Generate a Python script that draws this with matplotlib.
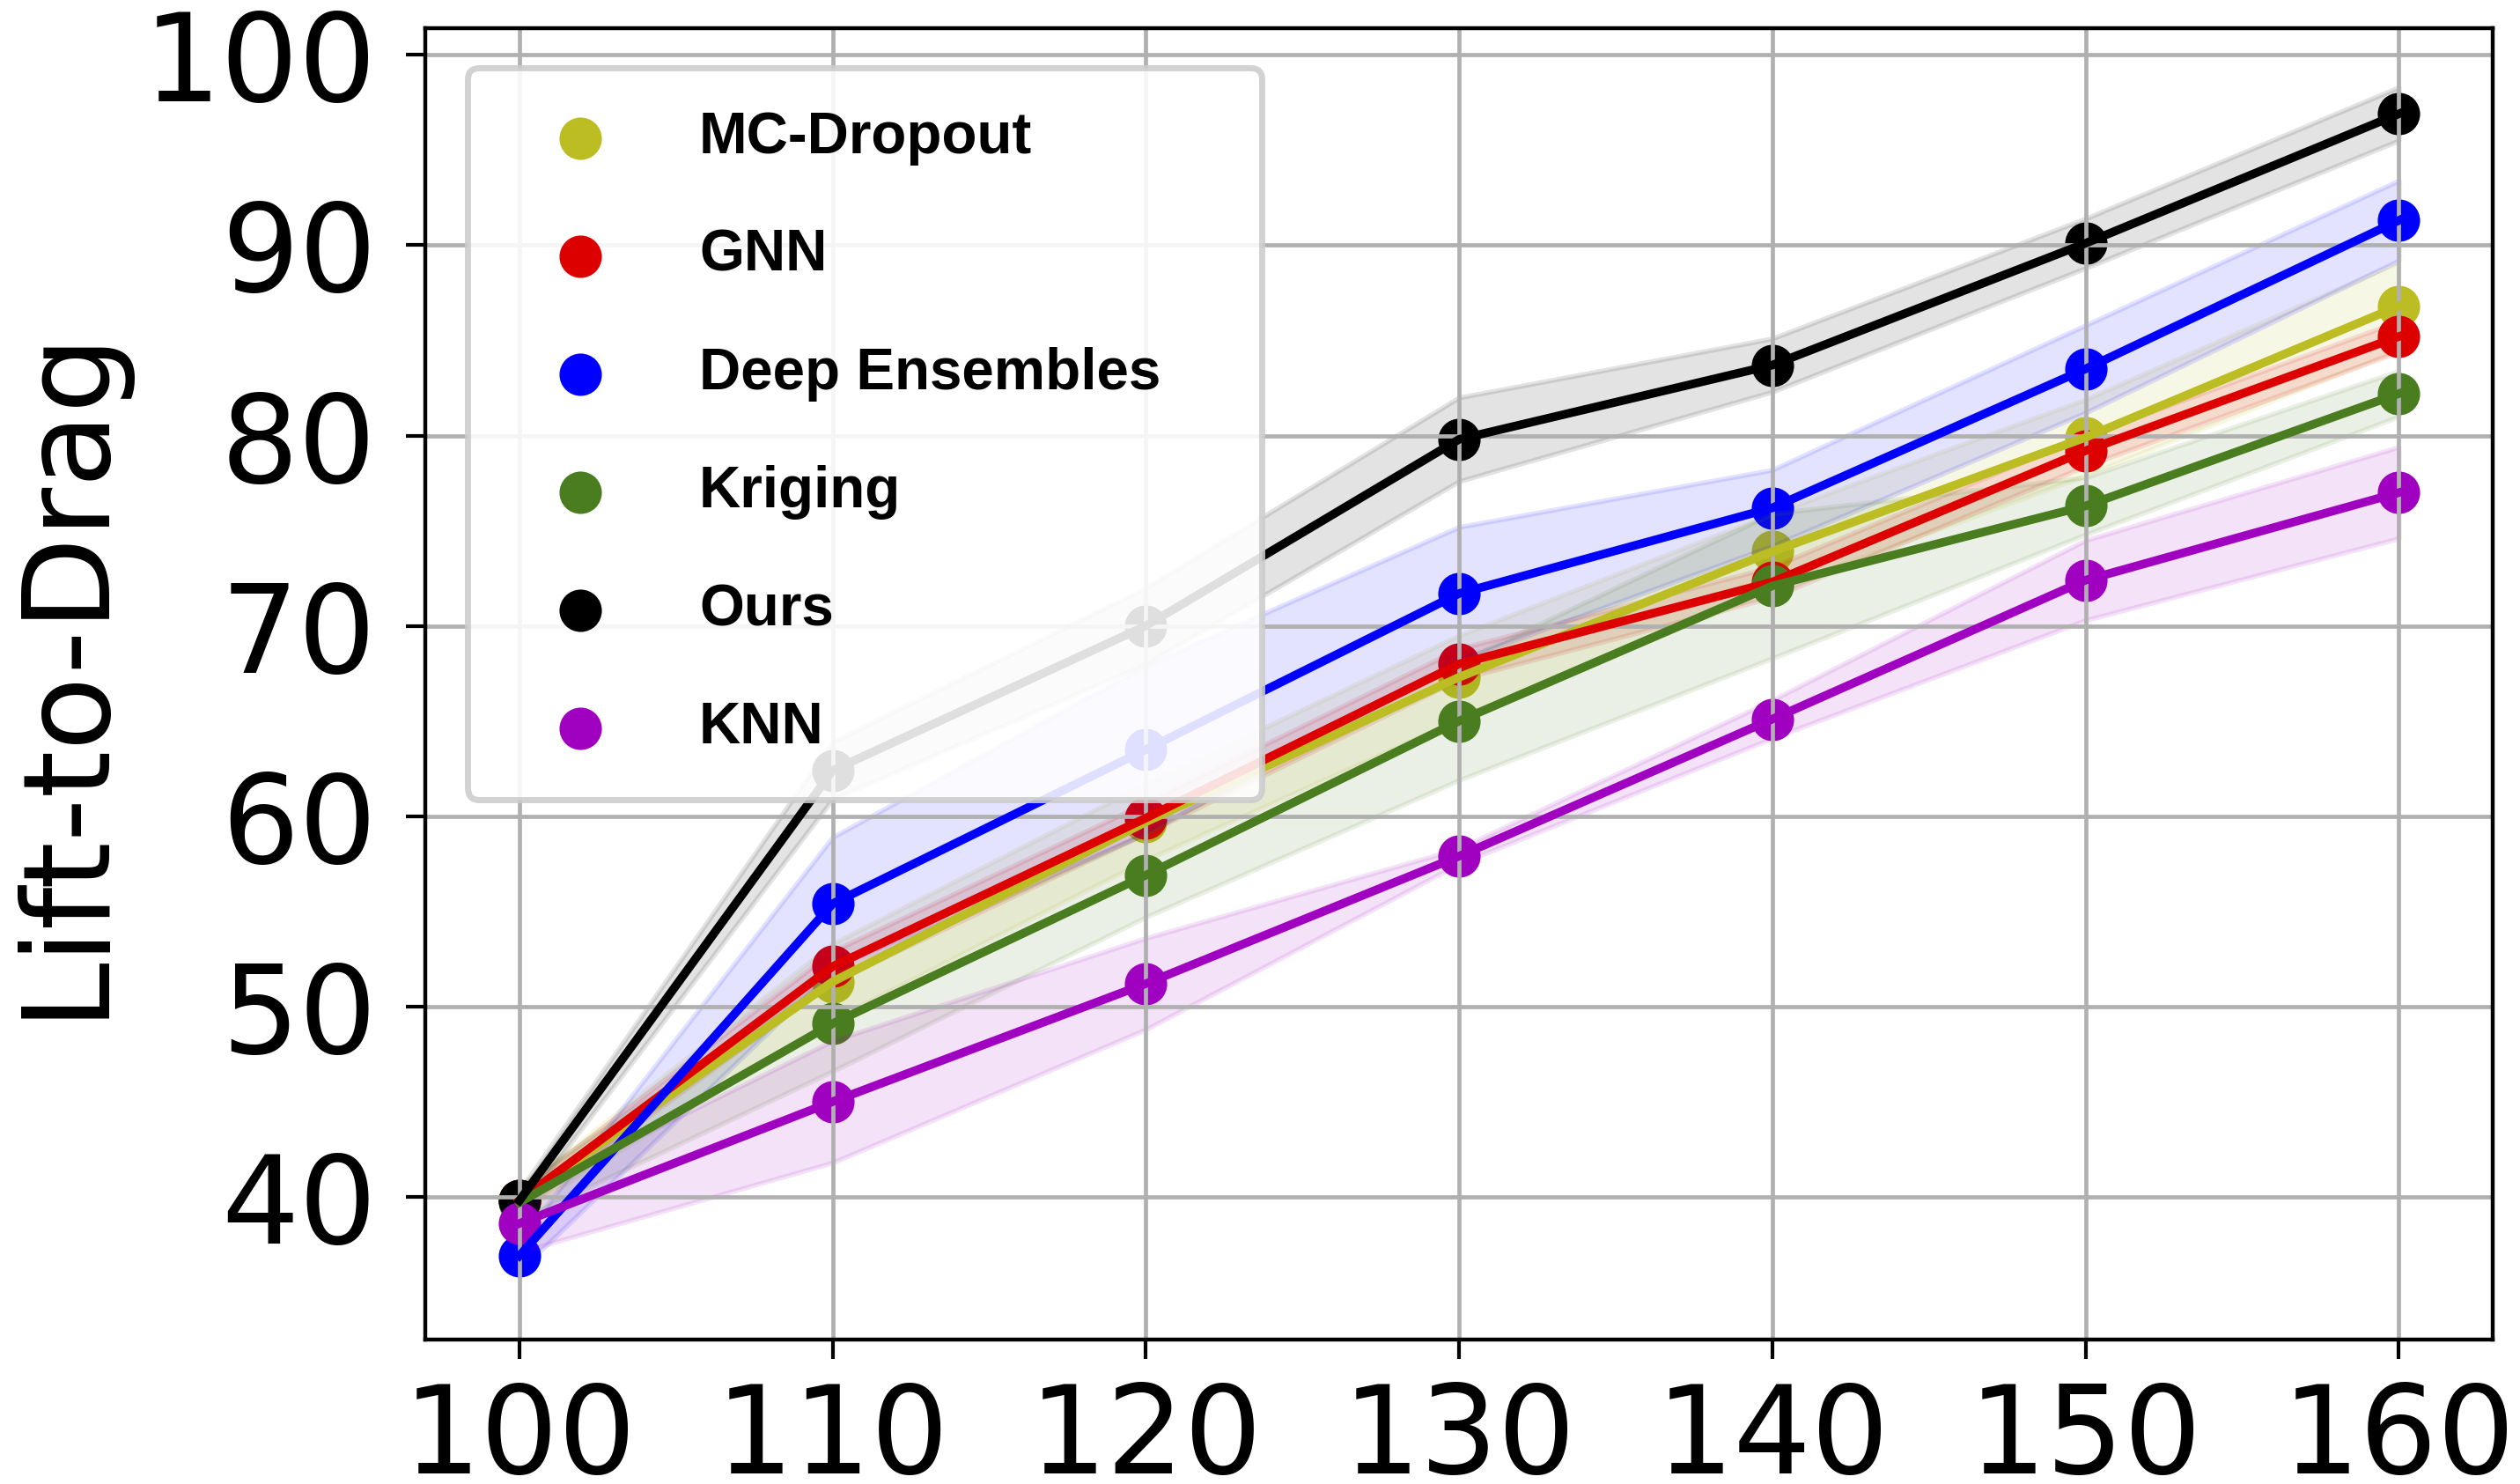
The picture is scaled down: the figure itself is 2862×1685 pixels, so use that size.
import numpy as np
import matplotlib
matplotlib.use("Agg")
import matplotlib.pyplot as plt
from matplotlib.font_manager import FontProperties

x_values = [100, 110, 120, 130, 140, 150, 160]
series_names = ["MC-Dropout", "GNN", "Deep Ensembles", "Kriging", "Ours", "KNN"]
series_colors = ["#bcbd22", "#dd0000", "#0000ff", "#4a7d1f", "#000000", "#a000c0"]

mc_dropout = [39.8, 51.3, 59.7, 67.3, 73.9, 79.9, 86.8]
gnn = [39.8, 52.1, 59.9, 68.0, 72.3, 79.2, 85.2]
deep_ensembles = [36.9, 55.4, 63.5, 71.7, 76.2, 83.5, 91.3]
kriging = [39.7, 49.1, 56.9, 65.0, 72.1, 76.3, 82.2]
ours = [39.8, 62.4, 70.0, 79.8, 83.7, 90.1, 96.9]
knn = [38.6, 45.0, 51.2, 57.9, 65.1, 72.4, 77.0]

mc_dropout_std = [0.6, 2.0, 2.0, 2.2, 2.0, 2.0, 2.3]
gnn_std = [0.5, 0.8, 0.8, 0.8, 0.8, 0.8, 0.8]
deep_ensembles_std = [0.8, 3.5, 4.4, 3.5, 2.0, 2.3, 2.1]
kriging_std = [0.9, 2.5, 2.2, 3.1, 3.8, 1.5, 1.2]
ours_std = [0.5, 1.5, 2.0, 2.2, 1.4, 1.3, 1.4]
knn_std = [1.5, 3.2, 2.4, 0.4, 1.0, 2.1, 2.4]

series_values = [mc_dropout, gnn, deep_ensembles, kriging, ours, knn]
series_stds = [mc_dropout_std, gnn_std, deep_ensembles_std, kriging_std, ours_std, knn_std]

y_ticks = [40, 50, 60, 70, 80, 90, 100]

fig = plt.figure(figsize=(14.31, 8.425), dpi=200)
ax = fig.add_axes([0.1688, 0.0973, 0.8204, 0.8837])

xa = np.array(x_values, dtype=float)
for name, vals, std, col in zip(series_names, series_values, series_stds, series_colors):
    v = np.array(vals)
    s = np.array(std)
    ax.scatter(xa, v, s=300, color=col, label=name, linewidths=0)
    ax.plot(xa, v, color=col, lw=3.5)
    ax.fill_between(xa, v - s, v + s, color=col, alpha=0.11, lw=2)

ax.grid(True, color="#b0b0b0", lw=1.7)
ax.set_xlim(97, 163)
ax.set_ylim(32.5, 101.4)
ax.set_xticks(x_values)
ax.set_yticks(y_ticks)
ax.tick_params(axis="both", labelsize=50, length=8, width=1.5)
ax.tick_params(axis="x", pad=8.5)
ax.tick_params(axis="y", pad=12)
for sp in ax.spines.values():
    sp.set_linewidth(1.6)

ax.set_ylabel("Lift-to-Drag", fontsize=49.5)
ax.yaxis.set_label_coords(-0.146, 0.51)

prop = FontProperties(family="Liberation Sans", weight="bold", size=23.6)
leg = ax.legend(loc="upper left", bbox_to_anchor=(0.0204, 0.0, 0.3842, 0.97),
                mode="expand", borderaxespad=0, prop=prop, labelspacing=1.1,
                borderpad=0.75, handlelength=2.4, handletextpad=0.86,
                framealpha=0.88, scatterpoints=1)
leg.get_frame().set_linewidth(2.5)
leg.get_frame().set_edgecolor("0.8")

fig.savefig("out.png", dpi=200)
